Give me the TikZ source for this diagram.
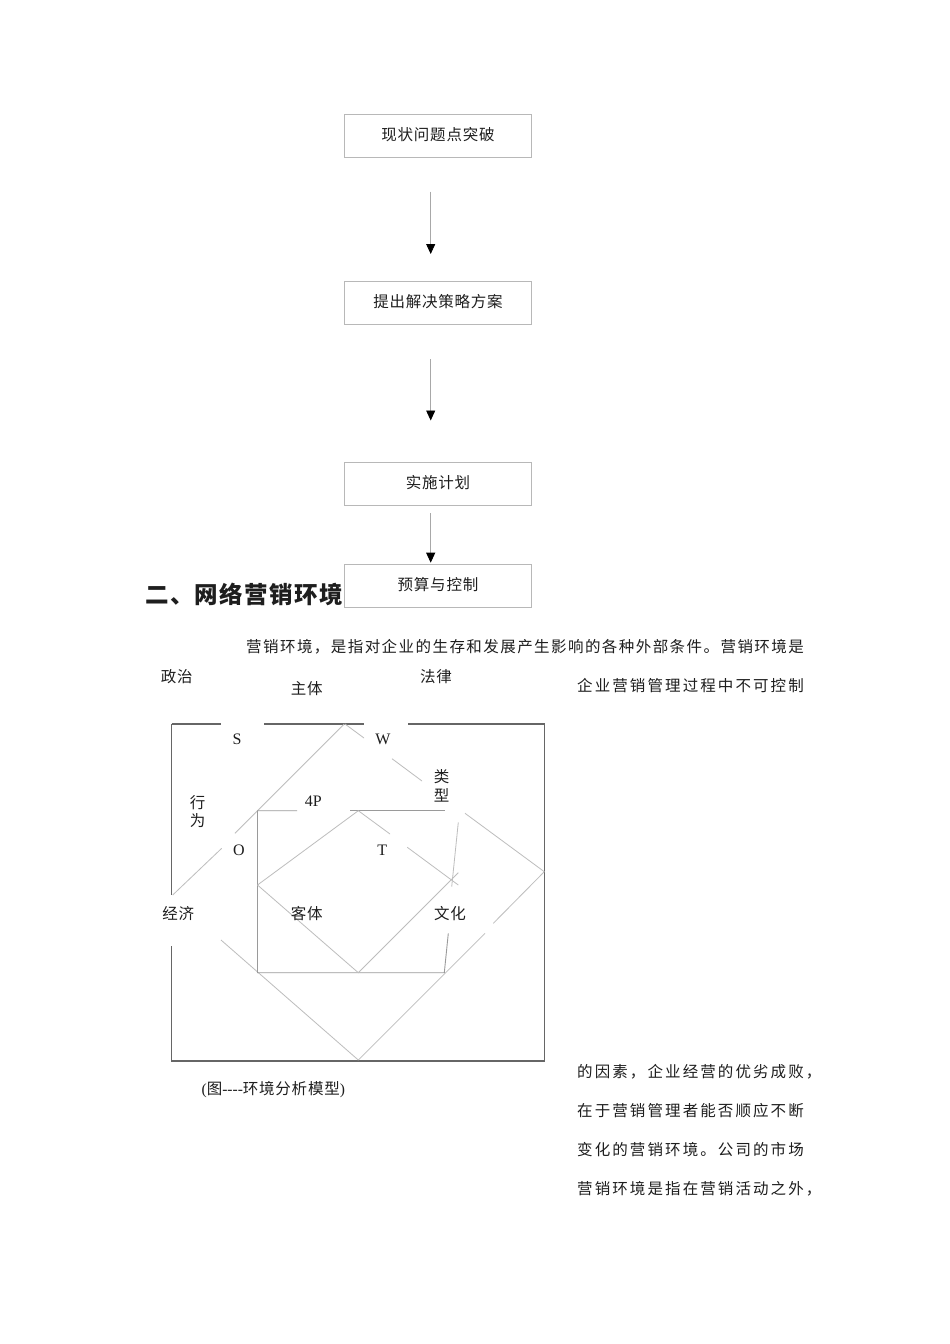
\documentclass[tikz,border=0pt]{standalone}
\usepackage{fontspec}
\setmainfont{Liberation Serif}
\newfontfamily\cjk{Noto Sans CJK SC}[LetterSpace=13.5]
\newfontfamily\cjktight{Noto Sans CJK SC}[LetterSpace=9.3]
\newfontfamily\cjklab{Noto Sans CJK SC}[LetterSpace=5]
\newfontfamily\cjkhead{Noto Sans CJK SC}[LetterSpace=6]
\usetikzlibrary{arrows.meta}
\definecolor{framegray}{HTML}{666666}
\definecolor{rectgray}{HTML}{9A9A9A}
\definecolor{diagray}{HTML}{BDBDBD}
\definecolor{boxgray}{HTML}{B8B8B8}
\definecolor{arrgray}{HTML}{A8A8A8}
\definecolor{inkc}{HTML}{1E1E1E}
\tikzset{
  flowbox/.style={draw=boxgray, line width=0.9pt, fill=white, minimum width=187.4pt, minimum height=43pt, inner sep=0pt, text=inkc, font=\cjklab\fontsize{15.5}{18}\selectfont},
  flowarrow/.style={draw=arrgray, line width=0.9pt, -{Triangle[length=10pt,width=9pt,color=black]}},
  frameline/.style={draw=framegray, line width=1.2pt},
  rectline/.style={draw=rectgray, line width=0.9pt},
  dialine/.style={draw=diagray, line width=0.8pt},
  cjklabel/.style={inner sep=0pt, text=inkc, font=\cjklab\fontsize{15.5}{18.5}\selectfont, align=center},
  latlabel/.style={inner sep=0pt, text=inkc, font=\fontsize{16}{18}\selectfont},
  paraline/.style={inner sep=0pt, anchor=west, text=inkc, font=\cjk\fontsize{15.5}{18}\selectfont}
}
\begin{document}
\begin{tikzpicture}[x=1pt,y=-1pt]
\useasboundingbox (0,0) rectangle (950,1344);
\fill[white] (0,0) rectangle (950,1344);

% heading (drawn before box 4, which covers its end)
\node[inner sep=0pt, anchor=west, text=inkc, font=\cjkhead\bfseries\fontsize{23.5}{28}\selectfont] (heading) at (145,594) {二、网络营销环境};

% flowchart
\node[flowbox] (b1) at (438,135.8) {\raisebox{3pt}{现状问题点突破}};
\node[flowbox] (b2) at (438,302.9) {\raisebox{3pt}{提出解决策略方案}};
\node[flowbox] (b3) at (438,483.7) {\raisebox{3pt}{实施计划}};
\node[flowbox] (b4) at (438,585.8) {\raisebox{3pt}{预算与控制}};

\coordinate (a1s) at (430.7,191.7);
\coordinate (a1e) at (430.7,254);
\coordinate (a2s) at (430.7,359);
\coordinate (a2e) at (430.7,420.5);
\coordinate (a3s) at (430.7,513.3);
\coordinate (a3e) at (430.7,562.7);
\draw[flowarrow] (a1s) -- (a1e);
\draw[flowarrow] (a2s) -- (a2e);
\draw[flowarrow] (a3s) -- (a3e);

% paragraph lines
\node[paraline, font=\cjktight\fontsize{15.5}{18}\selectfont] (p1) at (246,647) {营销环境，是指对企业的生存和发展产生影响的各种外部条件。营销环境是};
\node[paraline] (p2) at (577,686) {企业营销管理过程中不可控制};
\node[paraline] (p3) at (577,1072) {的因素，企业经营的优劣成败，};
\node[paraline] (p4) at (577,1111) {在于营销管理者能否顺应不断};
\node[paraline] (p5) at (577,1150) {变化的营销环境。公司的市场};
\node[paraline] (p6) at (577,1189) {营销环境是指在营销活动之外，};

% outer frame with gaps
\draw[frameline] (171.5,724) -- (221,724);
\draw[frameline] (264,724) -- (364,724);
\draw[frameline] (408,724) -- (544.3,724) -- (544.3,1061) -- (171.5,1061) -- (171.5,946);
\draw[frameline] (171.5,724) -- (171.5,895);

% large diamond-like lines
\draw[dialine] (344.3,724) -- (235,833.3);
\draw[dialine] (221.7,848.3) -- (172.7,895);
\draw[dialine] (345,724) -- (364,738);
\draw[dialine] (392,758.7) -- (422,781);
\draw[dialine] (465,813.3) -- (544.3,871.7);
\draw[dialine] (544.3,871.7) -- (493.3,923.3);
\draw[dialine] (485,933.3) -- (358.3,1060);
\draw[dialine] (358.3,1060) -- (221,940);

% 4P rectangle
\draw[rectline] (297,810.7) -- (257.5,810.7) -- (257.5,972.7) -- (444.3,972.7) -- (448.3,933.3);
\draw[rectline] (350,810.7) -- (445,810.7);
\draw[dialine] (451.7,886.7) -- (458.3,822.3);

% inner diamond
\draw[dialine] (257.5,885) -- (358.3,810.7) -- (390,834);
\draw[dialine] (407.3,847.3) -- (458.3,885);
\draw[dialine] (458.3,872.7) -- (358.3,972.7) -- (257.5,885);

% labels
\node[cjklabel] (zz) at (176.7,676.7) {政治};
\node[cjklabel] (zt) at (306.7,689) {主体};
\node[cjklabel] (fl) at (436,676.7) {法律};
\node[latlabel] (ls) at (237,739) {S};
\node[latlabel] (lw) at (383,739) {W};
\node[cjklabel] (lx) at (441.7,786) {类\\型};
\node[cjklabel] (xw) at (197.7,811.5) {行\\为};
\node[latlabel] (l4p) at (313.3,801) {4P};
\node[latlabel] (lo) at (239,850.7) {O};
\node[latlabel] (lt) at (382.3,850.7) {T};
\node[cjklabel] (jj) at (178.3,913.3) {经济};
\node[cjklabel] (kt) at (306.7,913.3) {客体};
\node[cjklabel] (wh) at (450,913.3) {文化};
\node[inner sep=0pt, text=inkc, font=\fontsize{15.5}{18}\selectfont] (cap) at (273.3,1089.3) {(\cjklab 图\rmfamily -{}-{}-{}-\cjklab 环境分析模型\rmfamily )};
\end{tikzpicture}
\end{document}
